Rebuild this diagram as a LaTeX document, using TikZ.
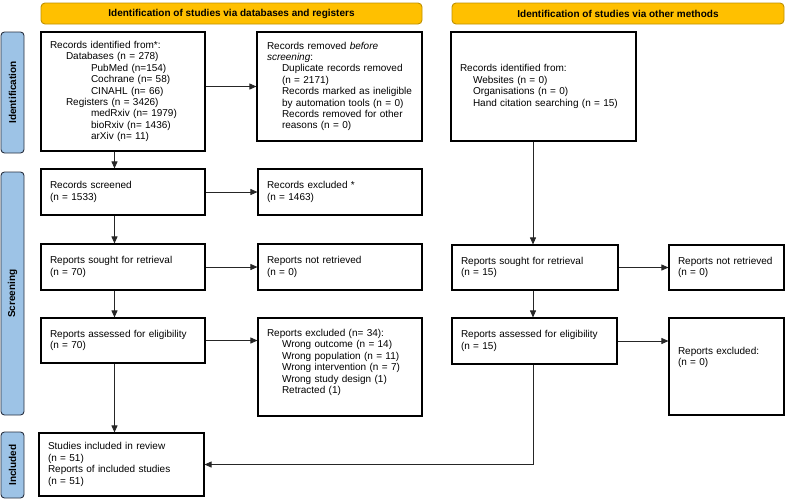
\documentclass[tikz,border=0pt]{standalone}
\usepackage{fontspec}
\setmainfont{Liberation Sans}
\usetikzlibrary{arrows.meta}
\definecolor{headyellow}{RGB}{255,192,0}
\definecolor{headborder}{RGB}{191,144,0}
\definecolor{sideblue}{RGB}{157,195,230}
\definecolor{sideborder}{RGB}{40,48,64}
\begin{document}
\begin{tikzpicture}[x=1pt,y=-1pt,
  box/.style={draw=black, line width=1.1pt, fill=white, align=left,
    inner xsep=9pt, inner ysep=0pt, font=\fontsize{10}{11.4}\selectfont},
  head/.style={draw=headborder, line width=0.9pt, fill=headyellow, rounded corners=4pt,
    inner sep=0pt, font=\bfseries\fontsize{10}{12}\selectfont},
  side/.style={draw=sideborder, line width=0.9pt, fill=sideblue, rounded corners=3.5pt,
    inner sep=0pt, rotate=90, minimum height=23pt, font=\bfseries\fontsize{10}{12}\selectfont},
  arr/.style={-{Triangle[length=7pt,width=6pt]}, line width=0.8pt, draw=black!85}]
\useasboundingbox (0,0) rectangle (785,499);

% headers
\node[head, minimum width=381pt, minimum height=21pt] (h1) at (231.5,13.5) {Identification of studies via databases and registers};
\node[head, minimum width=332pt, minimum height=21pt] (h2) at (618,13.5) {Identification of studies via other methods};

% side labels
\node[side, minimum width=121pt] (l1) at (12.5,92.5) {Identification};
\node[side, minimum width=243pt] (l2) at (12.5,293.5) {Screening};
\node[side, minimum width=66pt] (l3) at (12.5,465) {Included};

% boxes
\node[box, minimum width=164pt, minimum height=119pt, text width=146pt] (A1) at (123,91.5)
 {Records identified from*:\\
  \hspace*{16pt}Databases (n = 278)\\
  \hspace*{41pt}PubMed (n=154)\\
  \hspace*{41pt}Cochrane (n= 58)\\
  \hspace*{41pt}CINAHL (n= 66)\\
  \hspace*{16pt}Registers (n = 3426)\\
  \hspace*{41pt}medRxiv (n= 1979)\\
  \hspace*{41pt}bioRxiv (n= 1436)\\
  \hspace*{41pt}arXiv (n= 11)};
\node[box, inner xsep=10pt, minimum width=165pt, minimum height=109pt, text width=145pt] (A2) at (339.5,86.5)
 {Records removed \textit{before}\\
  \textit{screening}:\\
  \hspace*{15pt}\mbox{Duplicate records removed}\\
  \hspace*{15pt}(n = 2171)\\
  \hspace*{15pt}\mbox{Records marked as ineligible}\\
  \hspace*{15pt}\mbox{by automation tools (n = 0)}\\
  \hspace*{15pt}\mbox{Records removed for other}\\
  \hspace*{15pt}reasons (n = 0)};
\node[box, minimum width=185pt, minimum height=109pt, text width=167pt] (B1) at (543.5,86.5)
 {Records identified from:\\
  \hspace*{13pt}Websites (n = 0)\\
  \hspace*{13pt}Organisations (n = 0)\\
  \hspace*{13pt}Hand citation searching (n = 15)};

\node[box, minimum width=164pt, minimum height=46pt, text width=146pt] (S1) at (123,192)
 {Records screened\\(n = 1533)};
\node[box, minimum width=164pt, minimum height=46pt, text width=146pt] (E1) at (340,192)
 {Records excluded *\\(n = 1463)};

\node[box, minimum width=164pt, minimum height=46pt, text width=146pt] (S2) at (123,267)
 {Reports sought for retrieval\\(n = 70)};
\node[box, minimum width=164pt, minimum height=46pt, text width=146pt] (E2) at (340,267)
 {Reports not retrieved\\(n = 0)};
\node[box, minimum width=166pt, minimum height=45pt, text width=148pt] (R2) at (535,267.5)
 {Reports sought for retrieval\\(n = 15)};
\node[box, minimum width=115pt, minimum height=45pt, text width=97pt] (RE2) at (726.5,267.5)
 {Reports not retrieved\\(n = 0)};

\node[box, minimum width=164pt, minimum height=45pt, text width=146pt] (S3) at (123,340.5)
 {Reports assessed for eligibility\\(n = 70)};
\node[box, minimum width=164pt, minimum height=98pt, text width=146pt] (E3) at (340,367)
 {Reports excluded (n= 34):\\
  \hspace*{15pt}Wrong outcome (n = 14)\\
  \hspace*{15pt}Wrong population (n = 11)\\
  \hspace*{15pt}Wrong intervention (n = 7)\\
  \hspace*{15pt}Wrong study design (1)\\
  \hspace*{15pt}Retracted (1)\\
  \mbox{}};
\node[box, minimum width=165pt, minimum height=46pt, text width=147pt] (R3) at (534.5,341)
 {Reports assessed for eligibility\\(n = 15)};
\node[box, minimum width=115pt, minimum height=97pt, text width=97pt] (RE3) at (726.5,366.5)
 {Reports excluded:\\(n = 0)\\[-2pt]\mbox{}\\\mbox{}};

\node[box, minimum width=165pt, minimum height=63pt, text width=147pt] (INC) at (121.5,464.5)
 {Studies included in review\\(n = 51)\\Reports of included studies\\(n = 51)};

% connector columns
\coordinate (colL) at (114.5,0);
\coordinate (colR) at (533,0);

% arrows
\draw[arr] (A1.east |- A2.west) -- (A2.west);
\draw[arr] (A1.south -| colL) -- (S1.north -| colL);
\draw[arr] (S1.east) -- (E1.west);
\draw[arr] (S1.south -| colL) -- (S2.north -| colL);
\draw[arr] (S2.east) -- (E2.west);
\draw[arr] (S2.south -| colL) -- (S3.north -| colL);
\draw[arr] (S3.east) -- (S3.east -| E3.west);
\draw[arr] (S3.south -| colL) -- (INC.north -| colL);

\draw[arr] (B1.south -| colR) -- (R2.north -| colR);
\draw[arr] (R2.east) -- (RE2.west);
\draw[arr] (R2.south -| colR) -- (R3.north -| colR);
\draw[arr] (R3.east) -- (R3.east -| RE3.west);
\draw[arr] (R3.south -| colR) |- (INC.east);
\end{tikzpicture}
\end{document}
